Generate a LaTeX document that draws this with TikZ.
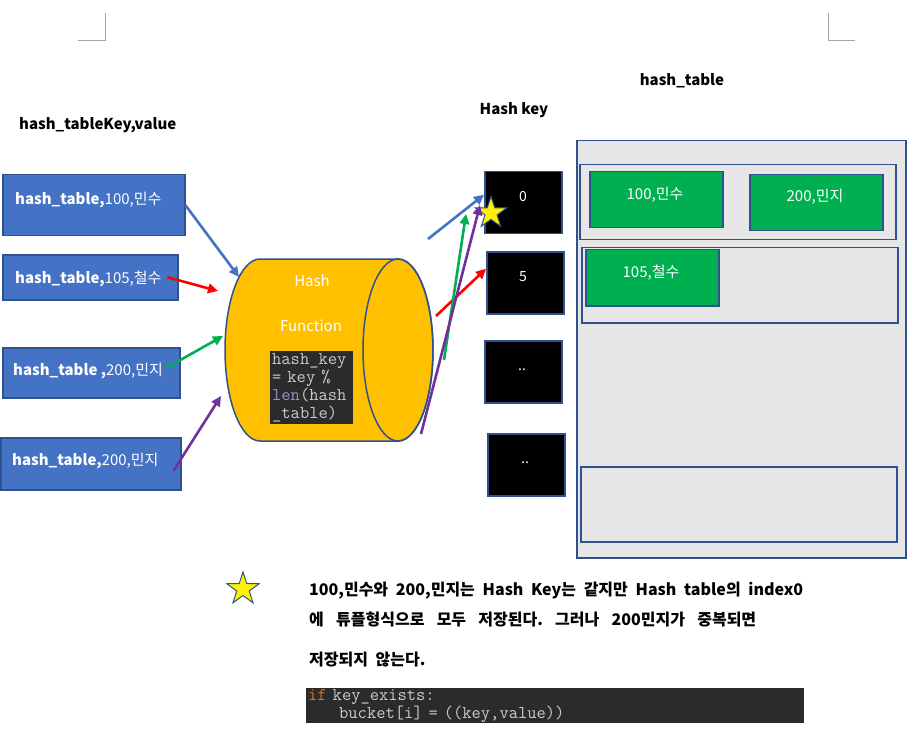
\documentclass[tikz,border=0pt]{standalone}
\usepackage{fontspec}
\setmainfont{Noto Sans CJK KR}
\usepackage{tikz}
\usetikzlibrary{arrows.meta}
\usetikzlibrary{shapes.geometric}
\frenchspacing

\definecolor{boxblue}{HTML}{4472C4}
\definecolor{edgeblue}{HTML}{2F528F}
\definecolor{fngold}{HTML}{FFC000}
\definecolor{itemgreen}{HTML}{00B050}
\definecolor{tablegray}{HTML}{E7E6E6}
\definecolor{codebg}{HTML}{2B2B2B}
\definecolor{codegray}{HTML}{C4CCD4}
\definecolor{codepurple}{HTML}{9A8CD0}
\definecolor{codeorange}{HTML}{CC7832}
\definecolor{arrpurple}{HTML}{7030A0}
\definecolor{cropgray}{HTML}{A6A6A6}

\begin{document}
\begin{tikzpicture}[x=1pt,y=-1pt,
				every node/.style={inner sep=0pt,font=\fontsize{15}{18}\selectfont},
				inbox/.style={draw=edgeblue,line width=1.5pt,fill=boxblue,anchor=north west},
				intext/.style={text=white,anchor=base west},
				keybox/.style={draw=edgeblue,line width=1.5pt,fill=black,anchor=north west,minimum width=77pt,minimum height=62pt},
				keytext/.style={text=white,anchor=base,font=\fontsize{14}{16}\selectfont},
				rowbox/.style={draw=edgeblue,line width=1.5pt,fill=tablegray,anchor=north west,minimum width=316pt,minimum height=75pt},
				gbox/.style={draw=edgeblue,line width=1.5pt,fill=itemgreen,anchor=north west,minimum width=133pt,minimum height=56pt},
				gtext/.style={text=white,anchor=base},
				codebox/.style={fill=codebg,anchor=north west,align=left,text=codegray,inner xsep=2pt,inner ysep=1pt,font=\ttfamily\fontsize{18}{18}\selectfont},
				headtext/.style={anchor=base,font=\bfseries\fontsize{15}{18}\selectfont},
				para/.style={anchor=base west,font=\bfseries\fontsize{16}{18}\selectfont},
				arr/.style={line width=2.6pt,-{Triangle[length=10pt,width=9.5pt]}},
				star5/.style={star,star points=5,star point ratio=2.6,fill=yellow,draw=edgeblue,line width=1pt,inner sep=0pt}
				]
				\fill[white] (0,0) rectangle (921,754);
				\useasboundingbox (0,0) rectangle (921,754);
				
				% page corner marks
				\draw[cropgray,line width=0.8pt] (78,40) -- (105,40) -- (105,13);
				\draw[cropgray,line width=0.8pt] (828,13) -- (828,40) -- (855,40);
				
				% titles
				\node[headtext,anchor=base west] (kvtitle) at (19,130) {hash\_tableKey,value};
				\node[headtext] (keytitle) at (514,115) {Hash key};
				\node[headtext] (tabletitle) at (682,86) {hash\_table};
				
				% input boxes
				\node[inbox,minimum width=182pt,minimum height=61pt] (in1) at (2,174) {};
				\node[inbox,minimum width=175pt,minimum height=45pt] (in2) at (2,254) {};
				\node[inbox,minimum width=177pt,minimum height=50pt] (in3) at (2,347) {};
				\node[inbox,minimum width=180pt,minimum height=52pt] (in4) at (0,437) {};
				\node[intext] (in1t) at (15,205) {\textbf{hash\_table,}100,민수};
				\node[intext] (in2t) at (15,283) {\textbf{hash\_table,}105,철수};
				\node[intext] (in3t) at (13,375) {\textbf{hash\_table ,}200,민지};
				\node[intext] (in4t) at (12,465) {\textbf{hash\_table,}200,민지};
				
				% hash function
				\filldraw[fill=fngold,draw=edgeblue,line width=1.5pt] (260,259) -- (398,259)
					arc[start angle=270,end angle=450,x radius=35,y radius=91] -- (260,441)
					arc[start angle=90,end angle=270,x radius=35,y radius=91] -- cycle;
				\draw[edgeblue,line width=1.5pt] (398,350) ellipse[x radius=35,y radius=91];
				\node[text=white,anchor=base] (fnhash) at (312,287) {Hash};
				\node[text=white,anchor=base] (fnname) at (311,331) {Function};
				\node[codebox,minimum width=83pt,minimum height=73pt,text width=79pt] (fncode) at (270,351)
					{hash\_key\\= key \%\\\textcolor{codepurple}{len}(hash\\\_table)};
				
				% hash keys
				\node[keybox] (k0) at (484,171) {};
				\node[keybox] (k5) at (486,251) {};
				\node[keybox] (k2) at (484,340) {};
				\node[keybox] (k3) at (487,433) {};
				\node[keytext] (k0t) at (523,202) {0};
				\node[keytext] (k5t) at (523,281) {5};
				\node[keytext] (k2t) at (522,370) {..};
				\node[keytext] (k3t) at (525,463) {..};
				
				% hash table
				\node[draw=edgeblue,line width=1.5pt,fill=tablegray,anchor=north west,minimum width=329pt,minimum height=417pt] (tbl) at (576,140) {};
				\node[rowbox] (row0) at (579,164) {};
				\node[rowbox] (row5) at (581,247) {};
				\node[rowbox] (rowz) at (580,466) {};
				\node[gbox] (g1) at (589,171) {};
				\node[gbox] (g2) at (749,174) {};
				\node[gbox] (g3) at (585,249) {};
				\node[gtext] (g1t) at (655,200) {100,민수};
				\node[gtext] (g2t) at (815,202) {200,민지};
				\node[gtext] (g3t) at (651,277) {105,철수};
				
				% arrow ends
				\coordinate (fnin1) at (239,277);
				\coordinate (fnin2) at (218,291);
				\coordinate (fnin3) at (223,336);
				\coordinate (fnin4) at (221,396);
				\coordinate (fnout1) at (428,239);
				\coordinate (fnout2) at (436,316);
				\coordinate (fnout3) at (444,360);
				\coordinate (fnout4) at (421,434);
				\coordinate (k0g) at (466,214);
				\coordinate (k0p) at (480,205);
				
				\draw[arr,boxblue] (in1.east) -- (fnin1);
				\draw[arr,red] ([xshift=-11pt]in2.east) -- (fnin2);
				\draw[arr,itemgreen] ([xshift=-14pt,yshift=5pt]in3.east) -- (fnin3);
				\draw[arr,arrpurple] ([xshift=-8pt,yshift=-7pt]in4.east) -- (fnin4);
				
				\node[star5,minimum size=33pt] (st0) at (491,213) {};
				
				\draw[arr,boxblue] (fnout1) -- ([yshift=8pt]k0.west);
				\draw[arr,red] (fnout2) -- ([yshift=14pt]k5.west);
				\draw[arr,itemgreen] (fnout3) -- (k0g);
				\draw[arr,arrpurple] (fnout4) -- (k0p);
				
				% note
				\node[star5,minimum size=34pt] (st1) at (243,589) {};
				\node[para] (pl1) at (309,595) {\makebox[494pt][s]{100,민수와 200,민지는 Hash Key는 같지만 Hash table의 index0}};
				\node[para] (pl2) at (309,625) {\makebox[447pt][s]{에 튜플형식으로 모두 저장된다. 그러나 200민지가 중복되면}};
				\node[para] (pl3) at (309,665) {저장되지\hspace{4pt} 않는다.};
				\node[codebox,minimum width=498pt,minimum height=35pt,text width=494pt] (cdnode) at (306,688)
					{\textcolor{codeorange}{if} key\_exists:\\\hspace*{31pt}bucket[i] = ((key,value))};
			\end{tikzpicture}
\end{document}
